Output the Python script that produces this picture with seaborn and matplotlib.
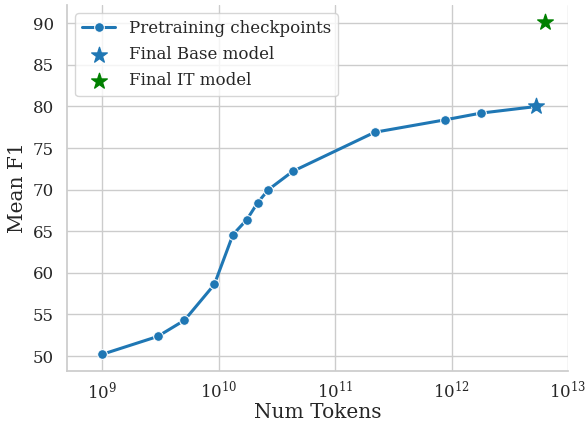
import numpy as np
import pandas as pd
import matplotlib
matplotlib.use("Agg")
import matplotlib.pyplot as plt
import seaborn as sns

# checkpoint values
num_tokens = [1.0e9, 3.0e9, 5.1e9, 9.2e9, 1.33e10, 1.75e10, 2.17e10, 2.68e10,
              4.33e10, 2.19e11, 8.85e11, 1.78e12, 5.35e12]
mean_f1 = [50.2, 52.35, 54.3, 58.6, 64.6, 66.4, 68.45, 70.0,
           72.2, 76.9, 78.4, 79.2, 80.0]

base_tokens = [5.35e12]
base_f1 = [80.0]
it_tokens = [6.4e12]
it_f1 = [90.2]

sns.set_theme(style="whitegrid")
plt.rcParams["font.family"] = ["DejaVu Serif"]
plt.rcParams["mathtext.fontset"] = "dejavuserif"

df = pd.DataFrame({"tokens": num_tokens, "f1": mean_f1})

fig, ax = plt.subplots(figsize=(5.87, 4.23), dpi=100)
fig.subplots_adjust(left=67 / 587, right=568 / 587, top=1 - 5 / 423, bottom=1 - 371 / 423)

sns.lineplot(data=df, x="tokens", y="f1", marker="o", color="#1f77b4",
             linewidth=2.2, markersize=7, label="Pretraining checkpoints", ax=ax)
sns.scatterplot(x=base_tokens, y=base_f1, marker="*", s=140, color="#1f77b4",
                edgecolor="#1f77b4", label="Final Base model", ax=ax, zorder=5)
sns.scatterplot(x=it_tokens, y=it_f1, marker="*", s=140, color="green",
                edgecolor="green", label="Final IT model", ax=ax, zorder=5)

ax.set_xscale("log")
ax.set_xlim(5e8, 1e13)
ax.set_xticks([1e9, 1e10, 1e11, 1e12, 1e13])
ax.set_yticks(range(50, 95, 5))
ax.tick_params(labelsize=12)
ax.tick_params(axis="x", pad=1)
ax.set_xlabel("Num Tokens", fontsize=14.5, labelpad=0)
ax.set_ylabel("Mean F1", fontsize=14.5)
ax.legend(loc="upper left", fontsize=12, labelspacing=0.55)
sns.despine(ax=ax)

plt.savefig("out.png", dpi=100)
